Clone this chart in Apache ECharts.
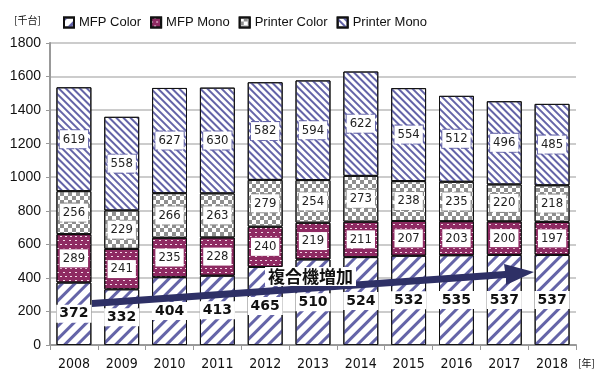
<!DOCTYPE html>
<html><head><meta charset="utf-8">
<script src="https://cdn.jsdelivr.net/npm/echarts@6/dist/echarts.min.js"></script>
<style>html,body{margin:0;padding:0;background:#fff}#c{width:595px;height:373px}</style>
</head><body><div id="c"></div>
<script>
const years = ['2008','2009','2010','2011','2012','2013','2014','2015','2016','2017','2018'];
const mfpColor = [372,332,404,413,465,510,524,532,535,537,537];
const mfpMono = [289,241,235,228,240,219,211,207,203,200,197];
const printerColor = [256,229,266,263,279,254,273,238,235,220,218];
const printerMono = [619,558,627,630,582,594,622,554,512,496,485];
const yTicks = [0,200,400,600,800,1000,1200,1400,1600,1800];
const arrowText = '複合機増加';

const chart = echarts.init(document.getElementById('c'), null, {renderer:'canvas'});
const narrow = '"DejaVu Sans Condensed","Liberation Sans Narrow","DejaVu Sans",sans-serif';
function boxLabel(border){
  return {show:true, position:'inside', color:'#222', fontSize:13, fontFamily:narrow,
    backgroundColor:'#fff', borderColor:border, borderWidth:1, borderType:'dashed', padding:[3,3,2,3]};
}
const common = {type:'bar', stack:'s', barWidth:'73%', emphasis:{disabled:true}};
chart.setOption({
  animation:false,
  grid:{left:50, right:19, top:43, bottom:28},
  legend:{left:58, top:11, itemWidth:10, itemHeight:10, itemGap:9, icon:'rect',
    textStyle:{fontSize:13, fontFamily:'"Liberation Sans",Arial,sans-serif', color:'#111'},
    data:['MFP Color','MFP Mono','Printer Color','Printer Mono']},
  xAxis:{type:'category', data:years,
    axisLine:{lineStyle:{color:'#999', width:2}},
    axisTick:{show:true, length:5, lineStyle:{color:'#999'}},
    axisLabel:{fontSize:14, fontFamily:narrow, color:'#111', margin:12}},
  yAxis:{type:'value', min:0, max:1800, interval:200,
    axisLine:{show:true, lineStyle:{color:'#999', width:2}},
    axisTick:{show:true, length:4, lineStyle:{color:'#999'}},
    splitLine:{lineStyle:{color:'#bbb', width:1.5}},
    axisLabel:{fontSize:14, fontFamily:'"Liberation Sans",Arial,sans-serif', color:'#111', margin:9,
      formatter:v => yTicks.includes(v) ? String(v) : ''}},
  series:[
    Object.assign({}, common, {name:'MFP Color', data:mfpColor,
      itemStyle:{color:'#fff', borderColor:'#111', borderWidth:1,
        decal:{symbol:'rect', color:'#6464a8', dashArrayX:[1,0], dashArrayY:[2.5,6], rotation:-Math.PI/4}},
      label:{show:true, position:'inside', color:'#111', fontSize:14, fontWeight:'bold',
        fontFamily:'"DejaVu Sans",sans-serif', backgroundColor:'#fff', padding:[2,3]}}),
    Object.assign({}, common, {name:'MFP Mono', data:mfpMono,
      itemStyle:{color:'#8e2a62', borderColor:'#111', borderWidth:1,
        decal:{symbol:'rect', color:'#f4dbe8', dashArrayX:[[2,3],[0,2.5,2,0.5]], dashArrayY:[1,2.5], rotation:0}},
      label:boxLabel('#8e2a62')}),
    Object.assign({}, common, {name:'Printer Color', data:printerColor,
      itemStyle:{color:'#fff', borderColor:'#111', borderWidth:1,
        decal:{symbol:'rect', color:'#8f8f8f', dashArrayX:[[4,4],[0,4,4,0]], dashArrayY:[4,0], rotation:0}},
      label:boxLabel('#888')}),
    Object.assign({}, common, {name:'Printer Mono', data:printerMono,
      itemStyle:{color:'#fff', borderColor:'#111', borderWidth:1,
        decal:{symbol:'rect', color:'#6464a8', dashArrayX:[1,0], dashArrayY:[1.5,2.5], rotation:Math.PI/4}},
      label:boxLabel('#6464a8')})
  ],
  graphic:[
    {type:'text', left:14, top:15, style:{text:'[千台]', fontSize:10, fill:'#111', fontFamily:'"Noto Sans CJK JP",sans-serif'}},
    {type:'text', left:578, top:358, style:{text:'[年]', fontSize:10, fill:'#111', fontFamily:'"Noto Sans CJK JP",sans-serif'}},
    {type:'polygon', z:100, shape:{points:[[92,300],[505,271],[504,264],[534,272],[506,285],[506,278],[92,307]]},
      style:{fill:'#2e3066'}},
    {type:'text', z:101, left:265, top:267, style:{text:arrowText, fontSize:17, fontWeight:'bold', fill:'#111',
      fontFamily:'"Noto Sans CJK JP",sans-serif', backgroundColor:'#fff', padding:[1,3]}}
  ]
});
</script></body></html>
